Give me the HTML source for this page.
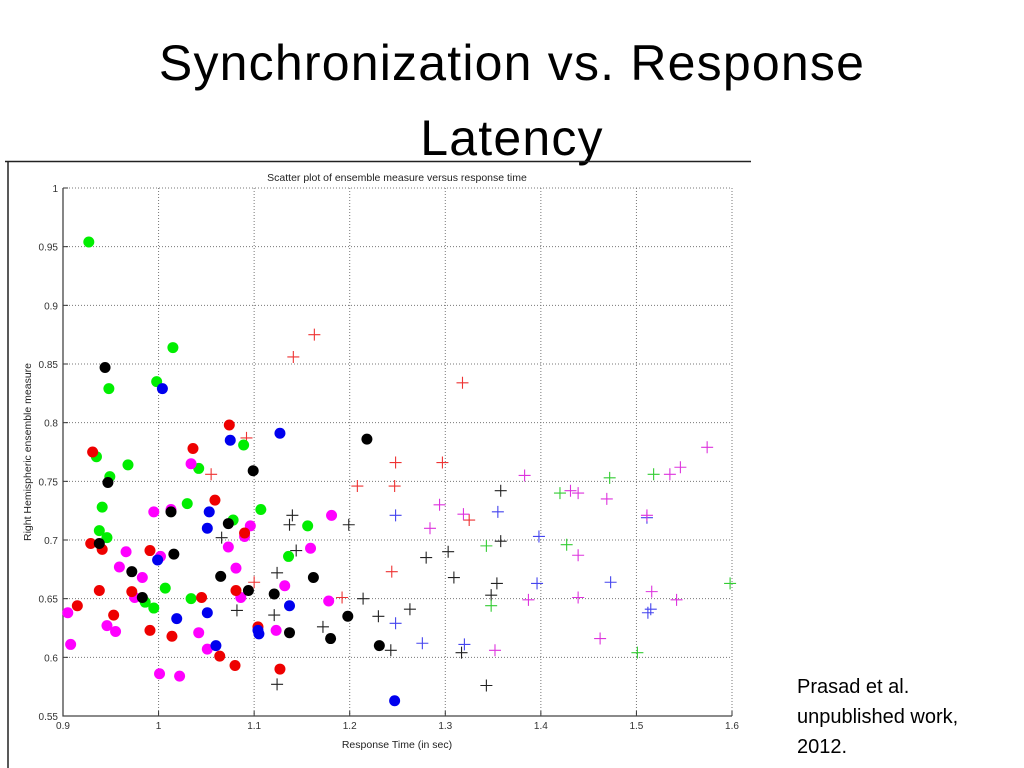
<!DOCTYPE html>
<html><head><meta charset="utf-8"><style>
body{margin:0;width:1024px;height:768px;background:#fff;overflow:hidden;font-family:"Liberation Sans",sans-serif}
</style></head><body>
<div style="position:absolute;left:0;top:26px;width:1024px;text-align:center;font-size:50px;line-height:75px;letter-spacing:1.2px;color:#000">Synchronization vs. Response<br>Latency</div>
<div style="position:absolute;left:797px;top:672px;font-size:20px;line-height:30px;color:#000">Prasad et al.<br>unpublished work,<br>2012.</div>
<svg id="chart" width="1024" height="768" style="position:absolute;left:0;top:0">
<line x1="5" y1="161.5" x2="751" y2="161.5" stroke="#222" stroke-width="1.5"/>
<line x1="8" y1="161" x2="8" y2="768" stroke="#222" stroke-width="1.5"/>
<g id="grid"></g><g id="marks"></g>
<text x="397" y="181" font-size="10.5" text-anchor="middle" fill="#222">Scatter plot of ensemble measure versus response time</text>
<text x="397" y="748" font-size="10.5" text-anchor="middle" fill="#222">Response Time (in sec)</text>
<text transform="translate(31,452) rotate(-90)" font-size="10.5" text-anchor="middle" fill="#222">Right Hemispheric ensemble measure</text>
</svg>
<script>
const xTicks=[0.9,1,1.1,1.2,1.3,1.4,1.5,1.6];
const xTickLabels=["0.9","1","1.1","1.2","1.3","1.4","1.5","1.6"];
const yTicks=[0.55,0.6,0.65,0.7,0.75,0.8,0.85,0.9,0.95,1];
const yTickLabels=["0.55","0.6","0.65","0.7","0.75","0.8","0.85","0.9","0.95","1"];
const greenDotX=[0.927,1.015,0.998,0.948,0.935,0.949,0.968,1.042,1.089,0.941,0.938,0.946,1.030,1.078,1.107,1.156,1.136,1.007,1.034,0.986,0.995];
const greenDotY=[0.954,0.864,0.835,0.829,0.771,0.754,0.764,0.761,0.781,0.728,0.708,0.702,0.731,0.717,0.726,0.712,0.686,0.659,0.650,0.647,0.642];
const blackDotX=[0.944,0.947,1.099,1.218,0.938,0.972,0.983,1.013,1.016,1.073,1.065,1.094,1.121,1.162,1.137,1.180,1.198,1.231];
const blackDotY=[0.847,0.749,0.759,0.786,0.697,0.673,0.651,0.724,0.688,0.714,0.669,0.657,0.654,0.668,0.621,0.616,0.635,0.610];
const blueDotX=[1.004,1.075,1.127,1.053,1.051,0.999,1.019,1.051,1.060,1.104,1.105,1.137,1.247];
const blueDotY=[0.829,0.785,0.791,0.724,0.710,0.683,0.633,0.638,0.610,0.623,0.620,0.644,0.563];
const redDotX=[1.074,1.036,0.931,1.059,0.929,0.941,0.991,1.090,0.938,0.972,1.045,1.081,0.915,0.953,0.991,1.014,1.064,1.080,1.104,1.127];
const redDotY=[0.798,0.778,0.775,0.734,0.697,0.692,0.691,0.706,0.657,0.656,0.651,0.657,0.644,0.636,0.623,0.618,0.601,0.593,0.626,0.590];
const magDotX=[1.034,0.995,1.013,1.096,1.090,1.073,0.966,1.002,0.959,0.983,1.081,1.086,0.975,1.132,1.159,1.181,1.178,0.905,0.908,0.946,0.955,1.042,1.051,1.123,1.001,1.022];
const magDotY=[0.765,0.724,0.726,0.712,0.703,0.694,0.690,0.686,0.677,0.668,0.676,0.651,0.651,0.661,0.693,0.721,0.648,0.638,0.611,0.627,0.622,0.621,0.607,0.623,0.586,0.584];
const redPlusX=[1.163,1.141,1.318,1.092,1.055,1.208,1.100,1.192,1.248,1.297,1.247,1.325,1.244];
const redPlusY=[0.875,0.856,0.834,0.787,0.756,0.746,0.664,0.651,0.766,0.766,0.746,0.717,0.673];
const blackPlusX=[1.066,1.140,1.137,1.144,1.124,1.082,1.121,1.172,1.124,1.214,1.199,1.358,1.358,1.303,1.280,1.309,1.354,1.348,1.263,1.230,1.243,1.317,1.343];
const blackPlusY=[0.702,0.721,0.713,0.691,0.672,0.640,0.636,0.626,0.577,0.650,0.713,0.742,0.699,0.690,0.685,0.668,0.663,0.653,0.641,0.635,0.606,0.604,0.576];
const bluePlusX=[1.248,1.355,1.398,1.396,1.473,1.511,1.512,1.515,1.248,1.276,1.320];
const bluePlusY=[0.721,0.724,0.703,0.663,0.664,0.719,0.638,0.641,0.629,0.612,0.611];
const magPlusX=[1.383,1.294,1.319,1.284,1.431,1.439,1.469,1.574,1.546,1.535,1.511,1.439,1.387,1.439,1.516,1.542,1.462,1.352];
const magPlusY=[0.755,0.730,0.722,0.710,0.742,0.740,0.735,0.779,0.762,0.756,0.721,0.687,0.649,0.651,0.656,0.649,0.616,0.606];
const greenPlusX=[1.472,1.518,1.420,1.343,1.427,1.348,1.501,1.598];
const greenPlusY=[0.753,0.756,0.740,0.695,0.696,0.644,0.604,0.663];

const L=63,R=732,T=188,B=716;
const sx=v=>L+(v-0.9)/(1.6-0.9)*(R-L);
const sy=v=>B-(v-0.55)/(1-0.55)*(B-T);
const NS="http://www.w3.org/2000/svg";
const grid=document.getElementById('grid'), marks=document.getElementById('marks');
function mk(tag,a,parent){const e=document.createElementNS(NS,tag);for(const k in a)e.setAttribute(k,a[k]);parent.appendChild(e);return e;}
xTicks.forEach((v,i)=>{
  const x=sx(v);
  if(i>0){const g=mk('line',{x1:x,y1:T,x2:x,y2:B,stroke:'#777','stroke-dasharray':'1,2'},grid);
  
  }
  const t=mk('line',{x1:x,y1:B,x2:x,y2:B-5,stroke:'#333'},grid);
  
  
  const lb=mk('text',{x:x,y:B+13,'font-size':10,'text-anchor':'middle',fill:'#333'},grid);
  lb.textContent=xTickLabels[i];
  
  
});
yTicks.forEach((v,i)=>{
  const y=sy(v);
  if(i>0){const g=mk('line',{x1:L,y1:y,x2:R,y2:y,stroke:'#777','stroke-dasharray':'1,2'},grid);
  
  }
  const t=mk('line',{x1:L,y1:y,x2:L+5,y2:y,stroke:'#333'},grid);
  
  
  const lb=mk('text',{x:L-5,y:y+4,'font-size':10,'text-anchor':'end',fill:'#333'},grid);
  lb.textContent=yTickLabels[i];
  
  
});
const ax=mk('path',{d:`M${L},${T}V${B}H${R}`,stroke:'#444','stroke-width':1.3,fill:'none'},grid);


function dots(X,Y,c,name){X.forEach((v,i)=>{const e=mk('circle',{cx:sx(v),cy:sy(Y[i]),r:5.5,fill:c},marks);
  
  });}
function pluses(X,Y,c,name){X.forEach((v,i)=>{const x=sx(v),y=sy(Y[i]);const e=mk('path',{d:`M${x-6},${y}H${x+6}M${x},${y-6}V${y+6}`,stroke:c,'stroke-width':1.1,fill:'none'},marks);
  
  });}
pluses(redPlusX,redPlusY,'#e33','red-plus-point');
pluses(blackPlusX,blackPlusY,'#222','black-plus-point');
pluses(bluePlusX,bluePlusY,'#44e','blue-plus-point');
pluses(magPlusX,magPlusY,'#d3d','magenta-plus-point');
pluses(greenPlusX,greenPlusY,'#3c3','green-plus-point');
dots(greenDotX,greenDotY,'#00ee00','green-dot-point');
dots(magDotX,magDotY,'#ff00ff','magenta-dot-point');
dots(redDotX,redDotY,'#ee0000','red-dot-point');
dots(blueDotX,blueDotY,'#0000ee','blue-dot-point');
dots(blackDotX,blackDotY,'#000','black-dot-point');
</script>
</body></html>
